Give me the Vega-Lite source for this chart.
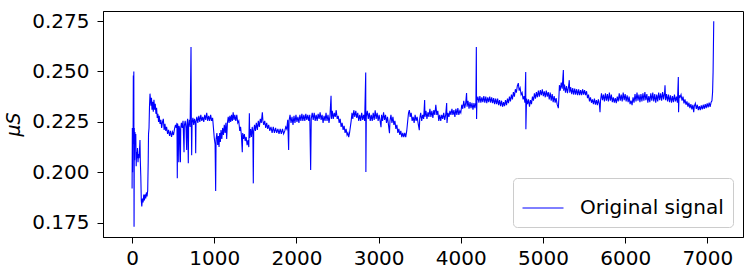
{
"$schema": "https://vega.github.io/schema/vega-lite/v6.json",
"width": 640, "height": 226,
"autosize": {"type": "none"},
"padding": {"left": 103, "top": 11, "right": 11, "bottom": 37},
"config": {"view": {"stroke": "black", "strokeWidth": 1}, "font": "DejaVu Sans"},
"data": {"values": [
{"t":0,"v":0.192},{"t":3,"v":0.222},{"t":6,"v":0.200},{"t":9,"v":0.221},{"t":12,"v":0.214},{"t":15,"v":0.248},{"t":18,"v":0.216},{"t":21,"v":0.250},{"t":24,"v":0.173},{"t":27,"v":0.222},{"t":31,"v":0.206},{"t":35,"v":0.220},{"t":40,"v":0.214},{"t":45,"v":0.219},{"t":50,"v":0.203},{"t":55,"v":0.210},{"t":60,"v":0.207},{"t":66,"v":0.212},{"t":72,"v":0.205},{"t":78,"v":0.209},{"t":84,"v":0.207},{"t":90,"v":0.211},{"t":96,"v":0.216},{"t":100,"v":0.206},{"t":106,"v":0.198},{"t":112,"v":0.186},{"t":118,"v":0.183},{"t":126,"v":0.187},{"t":134,"v":0.185},{"t":142,"v":0.189},{"t":150,"v":0.186},{"t":158,"v":0.189},{"t":166,"v":0.187},{"t":174,"v":0.190},{"t":182,"v":0.188},{"t":190,"v":0.191},{"t":196,"v":0.205},{"t":200,"v":0.219},{"t":206,"v":0.222},{"t":212,"v":0.233},{"t":218,"v":0.239},{"t":224,"v":0.236},{"t":230,"v":0.233},{"t":236,"v":0.237},{"t":242,"v":0.231},{"t":250,"v":0.235},{"t":258,"v":0.230},{"t":266,"v":0.236},{"t":274,"v":0.231},{"t":282,"v":0.234},{"t":290,"v":0.229},{"t":298,"v":0.232},{"t":306,"v":0.227},{"t":314,"v":0.229},{"t":322,"v":0.225},{"t":330,"v":0.228},{"t":340,"v":0.224},{"t":350,"v":0.226},{"t":360,"v":0.222},{"t":370,"v":0.225},{"t":380,"v":0.2265},{"t":390,"v":0.221},{"t":400,"v":0.224},{"t":410,"v":0.2205},{"t":420,"v":0.2225},{"t":432,"v":0.219},{"t":444,"v":0.221},{"t":456,"v":0.218},{"t":468,"v":0.2205},{"t":480,"v":0.2175},{"t":492,"v":0.220},{"t":504,"v":0.2185},{"t":516,"v":0.2215},{"t":528,"v":0.2235},{"t":538,"v":0.222},{"t":546,"v":0.2245},{"t":550,"v":0.197},{"t":554,"v":0.224},{"t":562,"v":0.222},{"t":568,"v":0.205},{"t":572,"v":0.223},{"t":580,"v":0.221},{"t":588,"v":0.205},{"t":592,"v":0.222},{"t":600,"v":0.2245},{"t":610,"v":0.222},{"t":620,"v":0.2255},{"t":632,"v":0.210},{"t":636,"v":0.223},{"t":646,"v":0.2255},{"t":656,"v":0.222},{"t":664,"v":0.211},{"t":668,"v":0.224},{"t":676,"v":0.2265},{"t":684,"v":0.2045},{"t":688,"v":0.223},{"t":696,"v":0.226},{"t":706,"v":0.2225},{"t":717,"v":0.2622},{"t":721,"v":0.224},{"t":725,"v":0.2085},{"t":730,"v":0.2245},{"t":740,"v":0.227},{"t":750,"v":0.2235},{"t":760,"v":0.2265},{"t":770,"v":0.224},{"t":774,"v":0.2095},{"t":778,"v":0.225},{"t":788,"v":0.2275},{"t":800,"v":0.2245},{"t":812,"v":0.228},{"t":824,"v":0.225},{"t":836,"v":0.2285},{"t":848,"v":0.2255},{"t":860,"v":0.2275},{"t":872,"v":0.225},{"t":884,"v":0.2285},{"t":896,"v":0.226},{"t":908,"v":0.2295},{"t":920,"v":0.2255},{"t":932,"v":0.228},{"t":944,"v":0.2255},{"t":956,"v":0.2285},{"t":968,"v":0.2255},{"t":980,"v":0.227},{"t":990,"v":0.222},{"t":1000,"v":0.217},{"t":1010,"v":0.214},{"t":1017,"v":0.1907},{"t":1022,"v":0.2165},{"t":1032,"v":0.2195},{"t":1042,"v":0.2135},{"t":1050,"v":0.218},{"t":1058,"v":0.2125},{"t":1066,"v":0.2195},{"t":1074,"v":0.215},{"t":1082,"v":0.221},{"t":1092,"v":0.2165},{"t":1102,"v":0.222},{"t":1112,"v":0.2185},{"t":1122,"v":0.2235},{"t":1132,"v":0.2195},{"t":1142,"v":0.2245},{"t":1151,"v":0.2165},{"t":1160,"v":0.2245},{"t":1170,"v":0.2275},{"t":1180,"v":0.2245},{"t":1190,"v":0.228},{"t":1200,"v":0.225},{"t":1210,"v":0.2285},{"t":1220,"v":0.2255},{"t":1230,"v":0.2298},{"t":1240,"v":0.226},{"t":1250,"v":0.2285},{"t":1262,"v":0.2255},{"t":1274,"v":0.2285},{"t":1286,"v":0.2245},{"t":1298,"v":0.2255},{"t":1310,"v":0.2205},{"t":1320,"v":0.2225},{"t":1330,"v":0.2185},{"t":1341,"v":0.210},{"t":1346,"v":0.2195},{"t":1356,"v":0.2165},{"t":1366,"v":0.219},{"t":1376,"v":0.2155},{"t":1388,"v":0.2175},{"t":1400,"v":0.2135},{"t":1412,"v":0.216},{"t":1420,"v":0.2125},{"t":1427,"v":0.2293},{"t":1432,"v":0.217},{"t":1442,"v":0.2215},{"t":1452,"v":0.2175},{"t":1462,"v":0.2225},{"t":1470,"v":0.219},{"t":1475,"v":0.1945},{"t":1480,"v":0.2205},{"t":1490,"v":0.2235},{"t":1500,"v":0.2205},{"t":1512,"v":0.2245},{"t":1524,"v":0.221},{"t":1536,"v":0.2255},{"t":1548,"v":0.2225},{"t":1560,"v":0.2265},{"t":1572,"v":0.2245},{"t":1585,"v":0.2298},{"t":1592,"v":0.2255},{"t":1602,"v":0.2235},{"t":1614,"v":0.2255},{"t":1626,"v":0.222},{"t":1638,"v":0.2245},{"t":1650,"v":0.2215},{"t":1662,"v":0.2235},{"t":1676,"v":0.2205},{"t":1690,"v":0.2225},{"t":1704,"v":0.2195},{"t":1718,"v":0.2225},{"t":1732,"v":0.2195},{"t":1746,"v":0.222},{"t":1760,"v":0.2195},{"t":1774,"v":0.2215},{"t":1788,"v":0.219},{"t":1802,"v":0.2215},{"t":1816,"v":0.219},{"t":1830,"v":0.2215},{"t":1844,"v":0.219},{"t":1858,"v":0.2205},{"t":1870,"v":0.2225},{"t":1882,"v":0.2215},{"t":1894,"v":0.226},{"t":1905,"v":0.211},{"t":1910,"v":0.2255},{"t":1922,"v":0.2285},{"t":1934,"v":0.2245},{"t":1946,"v":0.2275},{"t":1958,"v":0.2235},{"t":1970,"v":0.228},{"t":1982,"v":0.2245},{"t":1994,"v":0.2285},{"t":2006,"v":0.225},{"t":2018,"v":0.2275},{"t":2030,"v":0.2245},{"t":2042,"v":0.2285},{"t":2054,"v":0.2255},{"t":2066,"v":0.229},{"t":2078,"v":0.2255},{"t":2090,"v":0.2285},{"t":2102,"v":0.2255},{"t":2114,"v":0.229},{"t":2126,"v":0.226},{"t":2138,"v":0.2285},{"t":2150,"v":0.2255},{"t":2162,"v":0.2285},{"t":2173,"v":0.2011},{"t":2180,"v":0.2265},{"t":2192,"v":0.2295},{"t":2204,"v":0.226},{"t":2216,"v":0.2295},{"t":2228,"v":0.2255},{"t":2240,"v":0.2285},{"t":2252,"v":0.2255},{"t":2264,"v":0.229},{"t":2276,"v":0.2265},{"t":2288,"v":0.2298},{"t":2300,"v":0.226},{"t":2312,"v":0.2285},{"t":2324,"v":0.2245},{"t":2336,"v":0.228},{"t":2348,"v":0.2255},{"t":2360,"v":0.2295},{"t":2372,"v":0.2255},{"t":2384,"v":0.2285},{"t":2396,"v":0.2245},{"t":2408,"v":0.228},{"t":2421,"v":0.2379},{"t":2426,"v":0.2265},{"t":2436,"v":0.2305},{"t":2448,"v":0.2265},{"t":2460,"v":0.2295},{"t":2472,"v":0.2275},{"t":2484,"v":0.2308},{"t":2496,"v":0.2265},{"t":2508,"v":0.228},{"t":2520,"v":0.2245},{"t":2532,"v":0.2265},{"t":2544,"v":0.2225},{"t":2556,"v":0.2245},{"t":2568,"v":0.221},{"t":2580,"v":0.223},{"t":2592,"v":0.2195},{"t":2604,"v":0.2215},{"t":2616,"v":0.2185},{"t":2626,"v":0.2195},{"t":2636,"v":0.2174},{"t":2646,"v":0.2195},{"t":2656,"v":0.2225},{"t":2666,"v":0.2255},{"t":2676,"v":0.2295},{"t":2686,"v":0.2265},{"t":2698,"v":0.2308},{"t":2710,"v":0.2275},{"t":2722,"v":0.2305},{"t":2734,"v":0.227},{"t":2746,"v":0.2295},{"t":2758,"v":0.2255},{"t":2770,"v":0.2285},{"t":2782,"v":0.2255},{"t":2794,"v":0.2295},{"t":2806,"v":0.226},{"t":2818,"v":0.2285},{"t":2830,"v":0.2255},{"t":2843,"v":0.2495},{"t":2845,"v":0.2001},{"t":2850,"v":0.2275},{"t":2862,"v":0.2305},{"t":2874,"v":0.2265},{"t":2886,"v":0.2295},{"t":2898,"v":0.2255},{"t":2910,"v":0.2285},{"t":2922,"v":0.2255},{"t":2934,"v":0.2295},{"t":2946,"v":0.226},{"t":2958,"v":0.2308},{"t":2970,"v":0.2265},{"t":2982,"v":0.2295},{"t":2994,"v":0.2255},{"t":3006,"v":0.2285},{"t":3018,"v":0.2255},{"t":3029,"v":0.2224},{"t":3036,"v":0.2285},{"t":3048,"v":0.2255},{"t":3060,"v":0.2298},{"t":3072,"v":0.226},{"t":3084,"v":0.2285},{"t":3096,"v":0.2245},{"t":3108,"v":0.2275},{"t":3120,"v":0.2235},{"t":3132,"v":0.2194},{"t":3138,"v":0.2255},{"t":3150,"v":0.2285},{"t":3162,"v":0.2245},{"t":3174,"v":0.2275},{"t":3186,"v":0.2235},{"t":3198,"v":0.2255},{"t":3210,"v":0.2215},{"t":3222,"v":0.2235},{"t":3234,"v":0.2195},{"t":3246,"v":0.2215},{"t":3258,"v":0.2185},{"t":3270,"v":0.2205},{"t":3282,"v":0.2174},{"t":3294,"v":0.2195},{"t":3306,"v":0.2174},{"t":3318,"v":0.2195},{"t":3330,"v":0.2174},{"t":3342,"v":0.2205},{"t":3354,"v":0.2255},{"t":3364,"v":0.2295},{"t":3374,"v":0.2308},{"t":3384,"v":0.2275},{"t":3396,"v":0.2295},{"t":3408,"v":0.2255},{"t":3420,"v":0.2275},{"t":3432,"v":0.2245},{"t":3444,"v":0.2285},{"t":3456,"v":0.2255},{"t":3468,"v":0.2275},{"t":3480,"v":0.2245},{"t":3495,"v":0.2209},{"t":3500,"v":0.2265},{"t":3512,"v":0.2295},{"t":3524,"v":0.2255},{"t":3536,"v":0.2285},{"t":3548,"v":0.2265},{"t":3560,"v":0.2358},{"t":3564,"v":0.2275},{"t":3576,"v":0.2305},{"t":3588,"v":0.2265},{"t":3600,"v":0.2298},{"t":3612,"v":0.2275},{"t":3624,"v":0.2315},{"t":3636,"v":0.2275},{"t":3648,"v":0.2305},{"t":3660,"v":0.227},{"t":3672,"v":0.2308},{"t":3684,"v":0.2285},{"t":3696,"v":0.2335},{"t":3708,"v":0.2285},{"t":3720,"v":0.2305},{"t":3732,"v":0.2255},{"t":3744,"v":0.2285},{"t":3756,"v":0.2255},{"t":3768,"v":0.2285},{"t":3780,"v":0.2265},{"t":3792,"v":0.2295},{"t":3804,"v":0.226},{"t":3816,"v":0.2285},{"t":3828,"v":0.2343},{"t":3832,"v":0.2245},{"t":3844,"v":0.2295},{"t":3856,"v":0.2275},{"t":3868,"v":0.2305},{"t":3880,"v":0.2285},{"t":3892,"v":0.2315},{"t":3904,"v":0.2285},{"t":3916,"v":0.2308},{"t":3928,"v":0.2275},{"t":3940,"v":0.2315},{"t":3952,"v":0.2285},{"t":3964,"v":0.2318},{"t":3976,"v":0.2285},{"t":3988,"v":0.2305},{"t":4000,"v":0.2295},{"t":4012,"v":0.2335},{"t":4024,"v":0.2315},{"t":4036,"v":0.2355},{"t":4048,"v":0.2318},{"t":4060,"v":0.2345},{"t":4070,"v":0.2393},{"t":4076,"v":0.2325},{"t":4088,"v":0.2355},{"t":4100,"v":0.2315},{"t":4112,"v":0.2348},{"t":4124,"v":0.2318},{"t":4136,"v":0.2345},{"t":4148,"v":0.231},{"t":4160,"v":0.2343},{"t":4172,"v":0.2318},{"t":4184,"v":0.2348},{"t":4189,"v":0.2622},{"t":4192,"v":0.2264},{"t":4196,"v":0.2355},{"t":4208,"v":0.2375},{"t":4220,"v":0.2345},{"t":4232,"v":0.2378},{"t":4244,"v":0.2345},{"t":4256,"v":0.2372},{"t":4268,"v":0.2348},{"t":4280,"v":0.2378},{"t":4292,"v":0.2345},{"t":4304,"v":0.2375},{"t":4316,"v":0.2343},{"t":4328,"v":0.2372},{"t":4340,"v":0.2348},{"t":4352,"v":0.2375},{"t":4364,"v":0.2345},{"t":4376,"v":0.2372},{"t":4388,"v":0.2343},{"t":4400,"v":0.2368},{"t":4412,"v":0.2338},{"t":4424,"v":0.2365},{"t":4436,"v":0.2338},{"t":4448,"v":0.2365},{"t":4460,"v":0.2333},{"t":4472,"v":0.2358},{"t":4484,"v":0.2328},{"t":4496,"v":0.2355},{"t":4508,"v":0.2325},{"t":4520,"v":0.2348},{"t":4532,"v":0.2328},{"t":4544,"v":0.2358},{"t":4556,"v":0.2333},{"t":4568,"v":0.2365},{"t":4580,"v":0.2343},{"t":4592,"v":0.2375},{"t":4604,"v":0.2352},{"t":4616,"v":0.2385},{"t":4628,"v":0.2362},{"t":4640,"v":0.2398},{"t":4652,"v":0.2375},{"t":4664,"v":0.2412},{"t":4676,"v":0.2395},{"t":4688,"v":0.2428},{"t":4700,"v":0.2442},{"t":4710,"v":0.2405},{"t":4722,"v":0.2418},{"t":4734,"v":0.2385},{"t":4746,"v":0.2395},{"t":4758,"v":0.2362},{"t":4770,"v":0.2378},{"t":4780,"v":0.2345},{"t":4790,"v":0.2497},{"t":4792,"v":0.2214},{"t":4800,"v":0.2365},{"t":4812,"v":0.2338},{"t":4824,"v":0.2362},{"t":4836,"v":0.2325},{"t":4848,"v":0.2358},{"t":4860,"v":0.2338},{"t":4872,"v":0.2375},{"t":4884,"v":0.2355},{"t":4896,"v":0.2392},{"t":4908,"v":0.2365},{"t":4920,"v":0.2398},{"t":4932,"v":0.2372},{"t":4944,"v":0.2405},{"t":4956,"v":0.2375},{"t":4968,"v":0.2408},{"t":4980,"v":0.2382},{"t":4992,"v":0.2412},{"t":5004,"v":0.2378},{"t":5016,"v":0.2402},{"t":5028,"v":0.2372},{"t":5040,"v":0.2405},{"t":5052,"v":0.2375},{"t":5064,"v":0.2398},{"t":5076,"v":0.2362},{"t":5088,"v":0.2395},{"t":5100,"v":0.2355},{"t":5112,"v":0.2388},{"t":5124,"v":0.2348},{"t":5136,"v":0.2378},{"t":5148,"v":0.2345},{"t":5160,"v":0.2368},{"t":5172,"v":0.2338},{"t":5187,"v":0.2318},{"t":5194,"v":0.2375},{"t":5200,"v":0.2432},{"t":5210,"v":0.2405},{"t":5222,"v":0.2445},{"t":5234,"v":0.2415},{"t":5248,"v":0.2507},{"t":5252,"v":0.2405},{"t":5262,"v":0.2435},{"t":5274,"v":0.2395},{"t":5286,"v":0.2428},{"t":5298,"v":0.2392},{"t":5310,"v":0.2422},{"t":5320,"v":0.2457},{"t":5326,"v":0.2395},{"t":5338,"v":0.2422},{"t":5350,"v":0.2388},{"t":5362,"v":0.2418},{"t":5374,"v":0.2385},{"t":5386,"v":0.2415},{"t":5398,"v":0.2385},{"t":5410,"v":0.2412},{"t":5422,"v":0.2383},{"t":5434,"v":0.2412},{"t":5446,"v":0.2382},{"t":5458,"v":0.2408},{"t":5470,"v":0.2383},{"t":5482,"v":0.2412},{"t":5494,"v":0.2385},{"t":5506,"v":0.2408},{"t":5518,"v":0.2383},{"t":5530,"v":0.2402},{"t":5542,"v":0.2368},{"t":5554,"v":0.2385},{"t":5566,"v":0.2352},{"t":5578,"v":0.2372},{"t":5590,"v":0.2345},{"t":5602,"v":0.2362},{"t":5614,"v":0.2338},{"t":5626,"v":0.2365},{"t":5638,"v":0.2335},{"t":5650,"v":0.2358},{"t":5662,"v":0.2333},{"t":5674,"v":0.2362},{"t":5686,"v":0.2338},{"t":5694,"v":0.2298},{"t":5700,"v":0.2355},{"t":5712,"v":0.2392},{"t":5724,"v":0.2358},{"t":5736,"v":0.2385},{"t":5748,"v":0.2352},{"t":5760,"v":0.2392},{"t":5772,"v":0.2355},{"t":5784,"v":0.2388},{"t":5796,"v":0.2352},{"t":5808,"v":0.2395},{"t":5820,"v":0.2355},{"t":5832,"v":0.2385},{"t":5844,"v":0.2348},{"t":5856,"v":0.2372},{"t":5868,"v":0.2345},{"t":5880,"v":0.2368},{"t":5892,"v":0.2343},{"t":5904,"v":0.2375},{"t":5916,"v":0.2352},{"t":5928,"v":0.2392},{"t":5940,"v":0.2355},{"t":5952,"v":0.2385},{"t":5964,"v":0.2352},{"t":5976,"v":0.2395},{"t":5988,"v":0.2358},{"t":6000,"v":0.2388},{"t":6012,"v":0.2352},{"t":6024,"v":0.2382},{"t":6036,"v":0.2348},{"t":6048,"v":0.2375},{"t":6060,"v":0.2338},{"t":6072,"v":0.2355},{"t":6084,"v":0.2333},{"t":6096,"v":0.2372},{"t":6108,"v":0.2345},{"t":6120,"v":0.2388},{"t":6132,"v":0.2352},{"t":6144,"v":0.2395},{"t":6156,"v":0.2355},{"t":6168,"v":0.2385},{"t":6180,"v":0.2348},{"t":6192,"v":0.2388},{"t":6204,"v":0.2352},{"t":6216,"v":0.2392},{"t":6228,"v":0.2355},{"t":6240,"v":0.2398},{"t":6252,"v":0.2358},{"t":6264,"v":0.2388},{"t":6276,"v":0.2345},{"t":6288,"v":0.2378},{"t":6300,"v":0.2348},{"t":6312,"v":0.2392},{"t":6324,"v":0.2355},{"t":6336,"v":0.2395},{"t":6348,"v":0.2352},{"t":6360,"v":0.2388},{"t":6372,"v":0.2345},{"t":6384,"v":0.2385},{"t":6396,"v":0.2352},{"t":6408,"v":0.2395},{"t":6420,"v":0.2358},{"t":6432,"v":0.2392},{"t":6444,"v":0.2355},{"t":6456,"v":0.2398},{"t":6468,"v":0.2362},{"t":6480,"v":0.2395},{"t":6485,"v":0.2432},{"t":6492,"v":0.2358},{"t":6504,"v":0.2388},{"t":6516,"v":0.2352},{"t":6528,"v":0.2385},{"t":6540,"v":0.2348},{"t":6552,"v":0.2382},{"t":6564,"v":0.2345},{"t":6576,"v":0.2378},{"t":6588,"v":0.2348},{"t":6600,"v":0.2385},{"t":6612,"v":0.2352},{"t":6624,"v":0.2375},{"t":6636,"v":0.2345},{"t":6647,"v":0.2473},{"t":6650,"v":0.2298},{"t":6656,"v":0.2382},{"t":6668,"v":0.2372},{"t":6680,"v":0.2385},{"t":6692,"v":0.2355},{"t":6704,"v":0.2375},{"t":6716,"v":0.2342},{"t":6728,"v":0.2362},{"t":6740,"v":0.2335},{"t":6752,"v":0.2352},{"t":6764,"v":0.2325},{"t":6776,"v":0.2345},{"t":6788,"v":0.2318},{"t":6800,"v":0.2338},{"t":6812,"v":0.2312},{"t":6824,"v":0.2335},{"t":6834,"v":0.2298},{"t":6842,"v":0.2328},{"t":6854,"v":0.2342},{"t":6866,"v":0.2315},{"t":6878,"v":0.2335},{"t":6890,"v":0.2308},{"t":6902,"v":0.2328},{"t":6914,"v":0.2308},{"t":6926,"v":0.2332},{"t":6938,"v":0.2312},{"t":6950,"v":0.2335},{"t":6962,"v":0.2315},{"t":6974,"v":0.2338},{"t":6986,"v":0.2318},{"t":6998,"v":0.2342},{"t":7010,"v":0.2322},{"t":7022,"v":0.2345},{"t":7034,"v":0.2325},{"t":7046,"v":0.2348},{"t":7056,"v":0.2355},{"t":7064,"v":0.2398},{"t":7070,"v":0.2497},{"t":7078,"v":0.2749}
]},
"mark": {"type": "line", "strokeWidth": 1.1, "interpolate": "linear"},
"encoding": {
  "x": {"field": "t", "type": "quantitative", "sort": null,
    "scale": {"domain": [-354, 7434], "nice": false, "zero": false},
    "axis": {"values": [0,1000,2000,3000,4000,5000,6000,7000], "format": "d", "title": null, "grid": false,
      "labelFontSize": 20, "labelColor": "black", "tickColor": "black", "tickSize": 6, "tickWidth": 1,
      "labelPadding": 5, "domainColor": "black", "labelFlush": false}},
  "y": {"field": "v", "type": "quantitative",
    "scale": {"domain": [0.1679, 0.28], "nice": false, "zero": false},
    "axis": {"values": [0.175,0.2,0.225,0.25,0.275], "format": ".3f", "title": "μS", "grid": false,
      "labelFontSize": 20, "labelColor": "black", "tickColor": "black", "tickSize": 6, "tickWidth": 1,
      "labelPadding": 8, "domainColor": "black", "titleFontSize": 19, "titleFontStyle": "italic",
      "titleFontWeight": "normal", "titleColor": "black", "titlePadding": 8, "labelFlush": false}},
  "color": {"datum": "Original signal", "type": "nominal",
    "scale": {"range": ["#0000ff"]},
    "legend": {"title": null, "orient": "bottom-right", "offset": 10, "symbolType": "stroke",
      "symbolSize": 1681, "symbolStrokeWidth": 1, "labelFontSize": 20, "labelColor": "black",
      "labelOffset": 16, "padding": 9, "strokeColor": "#cccccc", "fillColor": "rgba(255,255,255,0.8)",
      "cornerRadius": 4}}
}
}
